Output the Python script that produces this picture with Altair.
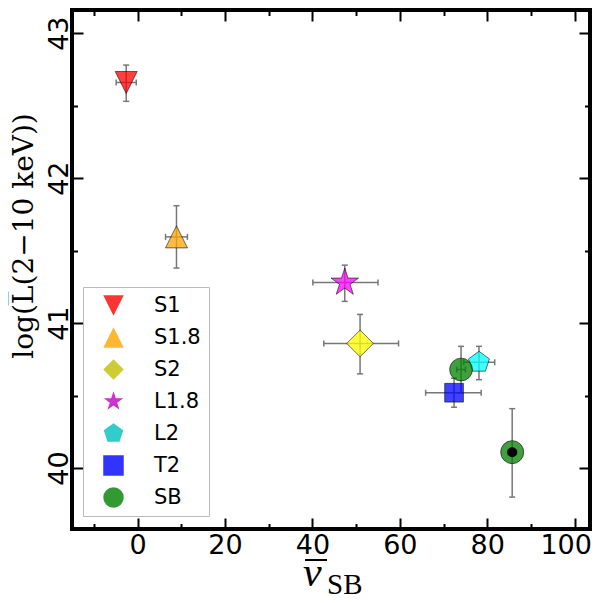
import pandas as pd
import altair as alt

# classes of the points and the values
classes = ["S1", "S1.8", "S2", "L1.8", "L2", "T2", "SB", "SB"]
nu_sb = [-2.6, 8.9, 50.9, 47.4, 78.1, 72.4, 74.0, 85.7]
nu_lo = [-4.9, 6.4, 42.6, 40.1, 74.6, 65.9, 73.0, 84.7]
nu_hi = [-0.3, 11.4, 59.7, 55.0, 81.7, 78.6, 75.0, 86.7]
log_l = [42.66, 41.595, 40.86, 41.28, 40.73, 40.52, 40.68, 40.11]
log_lo = [42.53, 41.38, 40.65, 41.15, 40.61, 40.42, 40.52, 39.80]
log_hi = [42.78, 41.81, 41.06, 41.40, 40.84, 40.62, 40.84, 40.41]
has_dot = [0, 0, 0, 0, 0, 0, 0, 1]

STAR = ("M0,-1L0.225,-0.309L0.951,-0.309L0.363,0.118L0.588,0.809L0,0.382"
        "L-0.588,0.809L-0.363,0.118L-0.951,-0.309L-0.225,-0.309Z")
PENTAGON = "M0,-1L0.951,-0.309L0.588,0.809L-0.588,0.809L-0.951,-0.309Z"
TRI_UP = "M0,-1L1,1L-1,1Z"
TRI_DOWN = "M0,1L1,-1L-1,-1Z"

fills = ["#ff0000", "#ffa500", "#ffff00", "#ff00ff", "#00ffff", "#0000ff", "#008000", "#008000"]
shapes = [TRI_DOWN, TRI_UP, "diamond", STAR, PENTAGON, "square", "circle", "circle"]
sizes = [484, 484, 710, 840, 484, 350, 520, 530]

legend_classes = ["S1", "S1.8", "S2", "L1.8", "L2", "T2", "SB"]
legend_colors = ["#ff3333", "#ffb733", "#cccc33", "#cc33cc", "#33cccc", "#3333ff", "#339933"]
legend_shapes = [TRI_DOWN, TRI_UP, "diamond", STAR, PENTAGON, "square", "circle"]

x_major = [0, 20, 40, 60, 80, 100]
x_minor = [-10, 10, 30, 50, 70, 90]
y_major = [40, 41, 42, 43]
y_minor = [40.5, 41.5, 42.5]

Y_TITLE = "log(L\u0305(2\u221210 keV))"
X_TITLE = "\u03bd"
X_SUB = "SB"

# the page is 584px wide inside its margins, wider charts get shrunk
W, H = 518, 519
ERR = "#777777"

df = pd.DataFrame({
    "cls": classes, "nu": nu_sb, "nu_lo": nu_lo, "nu_hi": nu_hi,
    "logl": log_l, "log_lo": log_lo, "log_hi": log_hi,
    "fill": fills, "shape": shapes, "size": sizes, "dot": has_dot,
})

xs = alt.Scale(domain=[-15, 103.5], nice=False, zero=False)
ys = alt.Scale(domain=[39.58, 43.16], nice=False, zero=False)


def tick_axis(orient, offset, values, size):
    # ticks only, pushed to the opposite edge so they point into the frame
    return alt.Axis(orient=orient, offset=offset, values=values, tickSize=size,
                    tickWidth=2, tickColor="black", ticks=True, labels=False,
                    domain=False, grid=False, title=None)


x_main = alt.Axis(orient="bottom", values=x_major, ticks=False, tickSize=0, domain=False,
                  grid=False, title=None, labelFont="DejaVu Sans", labelFontSize=27,
                  labelColor="black", labelPadding=3, labelFlush=False,
                  labelOffset=alt.condition("datum.value == 100", alt.value(-9), alt.value(0)))
y_main = alt.Axis(orient="left", values=y_major, ticks=False, tickSize=0, domain=False,
                  grid=False, title=None, labelFont="DejaVu Sans", labelFontSize=27,
                  labelColor="black", labelAngle=-90, labelAlign="center",
                  labelBaseline="alphabetic", labelPadding=5, labelFlush=False)

legend = alt.Legend(title=None, orient="none", legendX=11, legendY=277, padding=8,
                    fillColor="white", strokeColor="#bbbbbb",
                    symbolSize=420, symbolOffset=12, symbolOpacity=1, symbolStrokeWidth=0,
                    labelOffset=30, labelFont="DejaVu Sans", labelFontSize=21,
                    labelColor="black", rowPadding=10)

base = alt.Chart(df)

x_err = base.mark_rule(color=ERR, strokeWidth=1.5).encode(
    x=alt.X("nu_lo:Q", scale=xs, axis=x_main), x2="nu_hi:Q",
    y=alt.Y("logl:Q", scale=ys, axis=y_main),
)
y_err = base.mark_rule(color=ERR, strokeWidth=1.5).encode(
    x=alt.X("nu:Q", scale=xs, axis=tick_axis("top", -H, x_major, 11)),
    y=alt.Y("log_lo:Q", scale=ys, axis=tick_axis("right", -W, y_major, 11)), y2="log_hi:Q",
)
y_caps = base.transform_fold(["log_lo", "log_hi"], as_=["end", "yv"]).mark_tick(
    orient="horizontal", size=6, thickness=1.5, color=ERR, opacity=1
).encode(
    x=alt.X("nu:Q", scale=xs, axis=tick_axis("top", -H, x_minor, 5.5)),
    y=alt.Y("yv:Q", scale=ys, axis=tick_axis("right", -W, y_minor, 5.5)),
)
x_caps = base.transform_fold(["nu_lo", "nu_hi"], as_=["end", "xv"]).mark_tick(
    orient="vertical", size=6, thickness=1.5, color=ERR, opacity=1
).encode(
    x=alt.X("xv:Q", scale=xs, axis=tick_axis("bottom", -H, x_major, 11)),
    y=alt.Y("logl:Q", scale=ys, axis=tick_axis("left", -W, y_major, 11)),
)
points = base.mark_point(filled=True, opacity=1, fillOpacity=0.75, stroke="black",
                         strokeWidth=0.8, strokeOpacity=0.7).encode(
    x=alt.X("nu:Q", scale=xs, axis=tick_axis("bottom", -H, x_minor, 5.5)),
    y=alt.Y("logl:Q", scale=ys, axis=tick_axis("left", -W, y_minor, 5.5)),
    fill=alt.Fill("fill:N", scale=None),
    shape=alt.Shape("shape:N", scale=None),
    size=alt.Size("size:Q", scale=None),
)
# invisible copy that only carries the legend
legend_layer = base.mark_point(filled=True, opacity=0).encode(
    x=alt.X("nu:Q", scale=xs, axis=None),
    y=alt.Y("logl:Q", scale=ys, axis=None),
    color=alt.Color("cls:N", scale=alt.Scale(domain=legend_classes, range=legend_colors), legend=legend),
    shape=alt.Shape("cls:N", scale=alt.Scale(domain=legend_classes, range=legend_shapes), legend=legend),
)
dots = base.transform_filter("datum.dot == 1").mark_point(
    filled=True, color="black", opacity=1, size=100, shape="circle"
).encode(
    x=alt.X("nu:Q", scale=xs, axis=None),
    y=alt.Y("logl:Q", scale=ys, axis=None),
)

y_title = alt.Chart(pd.DataFrame({"t": [Y_TITLE]})).mark_text(
    angle=270, align="center", baseline="middle", font="DejaVu Serif", fontSize=28, color="black"
).encode(text="t:N", x=alt.value(-47), y=alt.value(226))
x_title = alt.Chart(pd.DataFrame({"t": [X_TITLE]})).mark_text(
    align="left", baseline="alphabetic", font="Liberation Serif", fontStyle="italic",
    fontSize=42, color="black"
).encode(text="t:N", x=alt.value(231), y=alt.value(576))
# bar over the nu of the x title
x_bar = alt.Chart(pd.DataFrame({"t": [X_TITLE]})).mark_rule(color="black", strokeWidth=2).encode(
    x=alt.value(233), x2=alt.value(255), y=alt.value(550)
)
x_sub = alt.Chart(pd.DataFrame({"t": [X_SUB]})).mark_text(
    align="left", baseline="alphabetic", font="Liberation Serif", fontSize=29, color="black"
).encode(text="t:N", x=alt.value(255), y=alt.value(584))

chart = alt.layer(
    x_err, y_err, y_caps, x_caps, points, legend_layer, dots, y_title, x_title, x_bar, x_sub
).resolve_axis(
    x="independent", y="independent"
).properties(
    width=W, height=H, autosize="none",
    padding={"left": 64, "top": 2, "right": 2, "bottom": 72},
).configure_view(
    stroke="black", strokeWidth=4
)

chart.save("out.html", embed_options={"renderer": "svg", "actions": False})
